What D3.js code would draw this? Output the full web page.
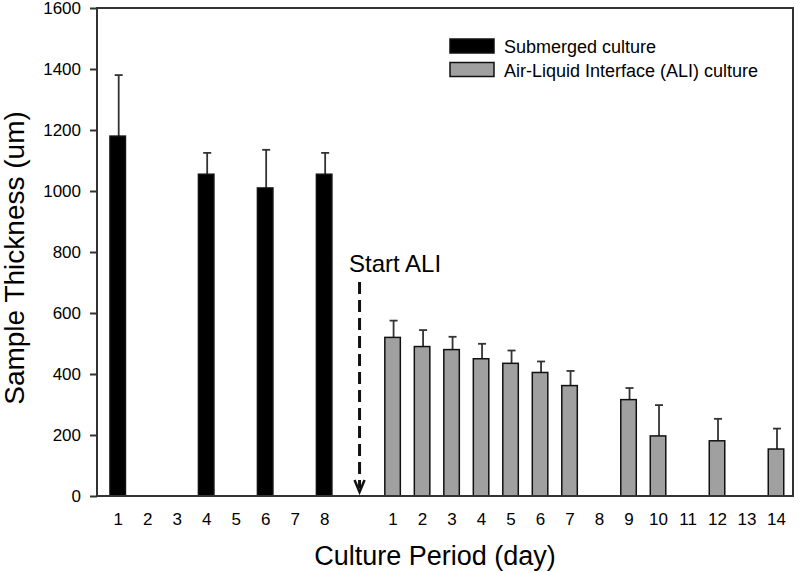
<!DOCTYPE html>
<html>
<head>
<meta charset="utf-8">
<script src="https://cdn.jsdelivr.net/npm/d3@7"></script>
<style>
  body { margin: 0; background: #fff; }
  svg { font-family: "Liberation Sans", Arial, sans-serif; }
</style>
</head>
<body>
<svg id="chart"></svg>
<script>
// data
const subDays = [1, 2, 3, 4, 5, 6, 7, 8]
const subMean = [1180, null, null, 1055, null, 1010, null, 1055]
const subErr  = [200, null, null, 70, null, 125, null, 70]

const aliDays = [1, 2, 3, 4, 5, 6, 7, 8, 9, 10, 11, 12, 13, 14]
const aliMean = [520, 490, 480, 450, 435, 405, 362, null, 316, 197, null, 181, null, 154]
const aliErr  = [55, 54, 42, 49, 42, 36, 48, null, 38, 101, null, 72, null, 67]

const yTicks = [0, 200, 400, 600, 800, 1000, 1200, 1400, 1600]

const legendLabels = ["Submerged culture", "Air-Liquid Interface (ALI) culture"]

const width = 800, height = 572
const plotL = 97, plotR = 793, plotT = 8, plotB = 496
const aliOffset = 9.32   // ALI days sit after a gap on the same axis
const arrowPos = 9.2

const svg = d3.select("#chart")
    .attr("width", width)
    .attr("height", height)

const x = d3.scaleLinear().domain([1, 14 + aliOffset]).range([117.7, 776])
const y = d3.scaleLinear().domain([0, 1600]).range([plotB, plotT])

const bars = []
subDays.forEach((d, i) => {
    bars.push({ pos: d, label: d, mean: subMean[i], err: subErr[i], fill: "#000" })
})
aliDays.forEach((d, i) => {
    bars.push({ pos: d + aliOffset, label: d, mean: aliMean[i], err: aliErr[i], fill: "#a0a0a0" })
})

const barW = 15.5
const withData = bars.filter(b => b.mean != null)

// error bars (upper only)
const eb = svg.append("g").attr("stroke", "#333").attr("stroke-width", 1.8)
eb.selectAll("line.stem")
    .data(withData)
    .enter()
    .append("line")
    .attr("x1", d => x(d.pos) + 1)
    .attr("x2", d => x(d.pos) + 1)
    .attr("y1", d => y(d.mean))
    .attr("y2", d => y(d.mean + d.err))
eb.selectAll("line.cap")
    .data(withData)
    .enter()
    .append("line")
    .attr("x1", d => x(d.pos) - 3)
    .attr("x2", d => x(d.pos) + 5)
    .attr("y1", d => y(d.mean + d.err))
    .attr("y2", d => y(d.mean + d.err))

// bars
svg.append("g")
    .selectAll("rect")
    .data(withData)
    .enter()
    .append("rect")
    .attr("x", d => x(d.pos) - barW / 2)
    .attr("width", barW)
    .attr("y", d => y(d.mean))
    .attr("height", d => y(0) - y(d.mean))
    .attr("fill", d => d.fill)
    .attr("stroke", "#111")
    .attr("stroke-width", 1.5)

// frame
svg.append("rect")
    .attr("x", plotL)
    .attr("y", plotT)
    .attr("width", plotR - plotL)
    .attr("height", plotB - plotT)
    .attr("fill", "none")
    .attr("stroke", "#333")
    .attr("stroke-width", 2)

// y axis
const yAxis = svg.append("g")
    .attr("transform", `translate(${plotL},0)`)
    .call(d3.axisLeft(y).tickValues(yTicks).tickFormat(d3.format("d")).tickSize(7).tickPadding(9))
yAxis.select(".domain").remove()
yAxis.selectAll(".tick line").attr("stroke", "#333").attr("stroke-width", 2)
yAxis.selectAll("text").attr("font-size", 17).attr("fill", "#000")
    .attr("font-family", "Liberation Sans, Arial, sans-serif")

// x axis labels
const xAxis = svg.append("g")
    .attr("transform", `translate(0,${plotB})`)
    .call(d3.axisBottom(x)
        .tickValues(bars.map(b => b.pos))
        .tickFormat((d, i) => bars[i].label)
        .tickSize(0)
        .tickPadding(17))
xAxis.select(".domain").remove()
xAxis.selectAll("text").attr("font-size", 17).attr("fill", "#000")
    .attr("font-family", "Liberation Sans, Arial, sans-serif")

// axis titles
svg.append("text")
    .attr("x", 435)
    .attr("y", 565)
    .attr("text-anchor", "middle")
    .attr("font-size", 27)
    .text("Culture Period (day)")

svg.append("text")
    .attr("transform", "translate(24,258) rotate(-90)")
    .attr("text-anchor", "middle")
    .attr("font-size", 28)
    .text("Sample Thickness (um)")

// Start ALI annotation
const ax = x(arrowPos)
svg.append("line")
    .attr("x1", ax).attr("x2", ax)
    .attr("y1", 282).attr("y2", 488)
    .attr("stroke", "#111")
    .attr("stroke-width", 3)
    .attr("stroke-dasharray", "12,6")
svg.append("path")
    .attr("d", `M${ax - 5},${480} L${ax},${492} L${ax + 5},${480}`)
    .attr("fill", "none")
    .attr("stroke", "#111")
    .attr("stroke-width", 2.5)
svg.append("text")
    .attr("x", 349)
    .attr("y", 272)
    .attr("font-size", 24)
    .text("Start ALI")

// legend
const legend = svg.append("g")
legend.selectAll("rect")
    .data(legendLabels)
    .enter()
    .append("rect")
    .attr("x", 450)
    .attr("y", (d, i) => 39 + i * 23.5)
    .attr("width", 44)
    .attr("height", 14)
    .attr("fill", (d, i) => i === 0 ? "#000" : "#a0a0a0")
    .attr("stroke", "#111")
    .attr("stroke-width", 1.5)
legend.selectAll("text")
    .data(legendLabels)
    .enter()
    .append("text")
    .attr("x", 504)
    .attr("y", (d, i) => 53 + i * 23.5)
    .attr("font-size", 18)
    .text(d => d)
</script>
</body>
</html>
